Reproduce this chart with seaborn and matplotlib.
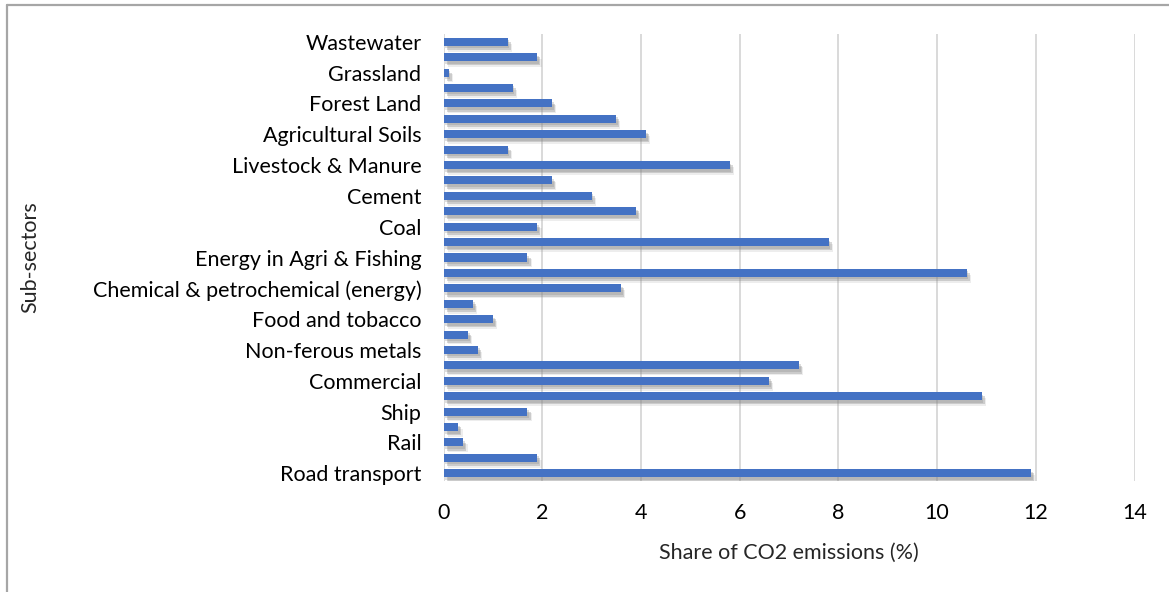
import matplotlib
matplotlib.use("Agg")
import matplotlib.pyplot as plt
import matplotlib.patheffects as pe
from matplotlib.lines import Line2D
import seaborn as sns
import pandas as pd

# Sub-sectors, listed top to bottom
sectors = [
    "Wastewater", "Solid waste", "Grassland", "Wetlands", "Forest Land",
    "Cropland", "Agricultural Soils", "Rice cultivation", "Livestock & Manure",
    "Metal production", "Cement", "Chemical processes", "Coal", "Oil & Gas",
    "Energy in Agri & Fishing", "Other industry",
    "Chemical & petrochemical (energy)", "Paper and printing", "Food and tobacco",
    "Iron and steel", "Non-ferous metals", "Public services", "Commercial",
    "Residential", "Ship", "Pipeline", "Rail", "Aviation", "Road transport",
]
# Share of CO2 emissions (%)
shares = [
    1.3, 1.9, 0.1, 1.4, 2.2,
    3.5, 4.1, 1.3, 5.8,
    2.2, 3.0, 3.9, 1.9, 7.8,
    1.7, 10.6,
    3.6, 0.6, 1.0,
    0.5, 0.7, 7.2, 6.6,
    10.9, 1.7, 0.3, 0.4, 1.9, 11.9,
]
x_ticks = [0, 2, 4, 6, 8, 10, 12, 14]

df = pd.DataFrame({"sector": sectors, "share": shares})

sns.set_theme(style="white")
plt.rcParams["font.family"] = ["Lato", "DejaVu Sans"]
FS = 15.5

W, H = 1169, 592
fig = plt.figure(figsize=(W / 100, H / 100), dpi=100)
ax_left, ax_right, ax_top, ax_bottom = 443.6, 1134.5, 34, 481
ax = fig.add_axes([ax_left / W, 1 - ax_bottom / H,
                   (ax_right - ax_left) / W, (ax_bottom - ax_top) / H])

sns.barplot(data=df, x="share", y="sector", orient="h", order=sectors,
            color="#4472C4", saturation=1, width=0.52, ax=ax, zorder=3)

# Soft drop shadow under each bar
for bar in ax.patches:
    bar.set_edgecolor("none")
    bar.set_path_effects([
        pe.SimplePatchShadow(offset=(3.0, -4.2), shadow_rgbFace="#8c8c8c", alpha=0.15),
        pe.SimplePatchShadow(offset=(2.2, -3.0), shadow_rgbFace="#7f7f7f", alpha=0.3),
        pe.SimplePatchShadow(offset=(1.2, -1.8), shadow_rgbFace="#7f7f7f", alpha=0.25),
        pe.Normal(),
    ])

ax.set_xlim(0, 14)
ax.set_xticks(x_ticks)
ax.set_xticklabels([str(t) for t in x_ticks], fontsize=FS, color="#000000")
ax.set_yticks(range(len(sectors)))
ax.set_yticklabels([s if i % 2 == 0 else "" for i, s in enumerate(sectors)],
                   fontsize=FS, color="#000000")
ax.tick_params(axis="both", length=0)
ax.tick_params(axis="y", pad=16)
ax.tick_params(axis="x", pad=16)

ax.grid(axis="x", color="#d9d9d9", linewidth=1.4, zorder=0)
ax.grid(axis="y", visible=False)
for s in ax.spines.values():
    s.set_visible(False)

ax.set_xlabel("Share of CO2 emissions (%)", fontsize=FS, labelpad=14)
ax.set_ylabel("Sub-sectors", fontsize=FS)
ax.yaxis.set_label_coords((40 - ax_left) / (ax_right - ax_left), 0.5)

# Chart frame
fig.add_artist(Line2D([6.5 / W, 1.0], [1 - 4.5 / H, 1 - 4.5 / H], transform=fig.transFigure,
                      color="#a6a6a6", linewidth=1.6))
fig.add_artist(Line2D([6.5 / W, 6.5 / W], [0.0, 1 - 4.5 / H], transform=fig.transFigure,
                      color="#a6a6a6", linewidth=1.6))

fig.savefig("out.png", dpi=100, facecolor="white")
